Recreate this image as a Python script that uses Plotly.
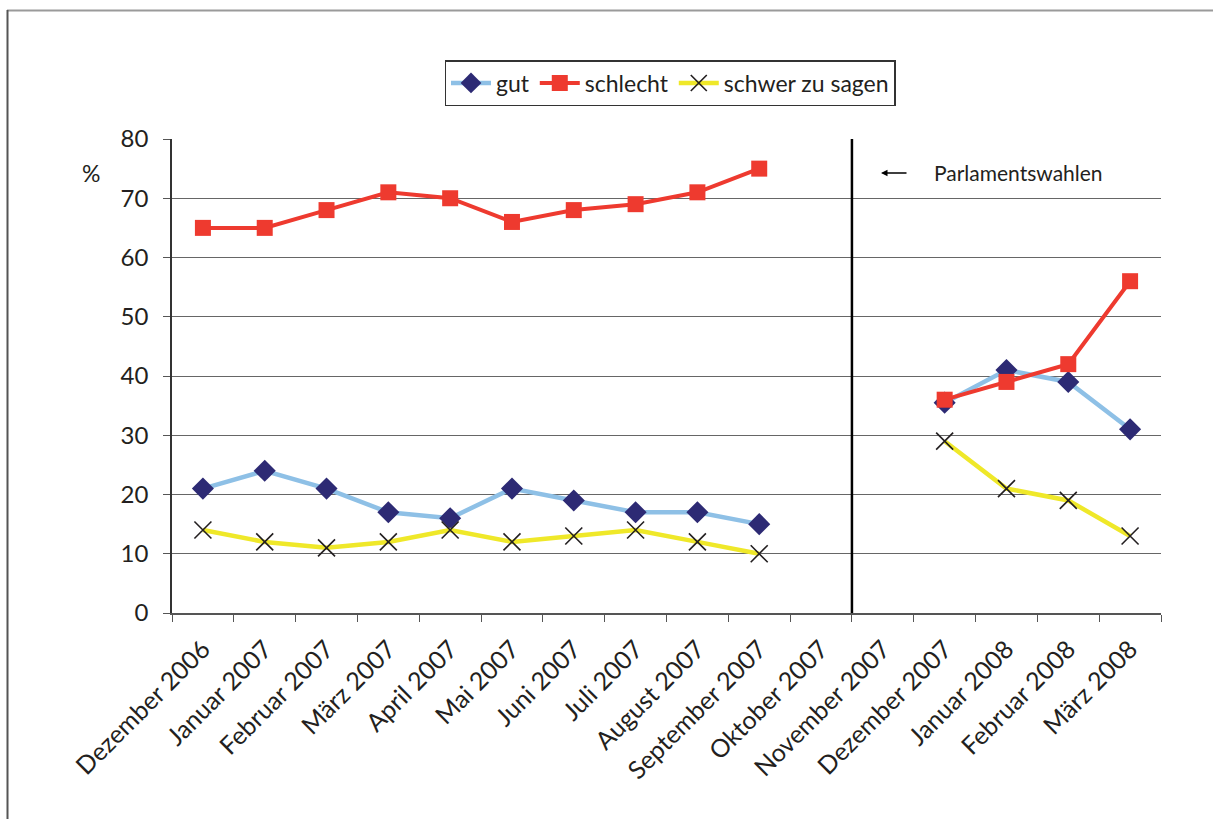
import plotly.graph_objects as go

months = ["Dezember 2006", "Januar 2007", "Februar 2007", "März 2007", "April 2007",
          "Mai 2007", "Juni 2007", "Juli 2007", "August 2007", "September 2007",
          "Oktober 2007", "November 2007", "Dezember 2007", "Januar 2008",
          "Februar 2008", "März 2008"]
gut = [21, 24, 21, 17, 16, 21, 19, 17, 17, 15, None, None, 35.5, 41, 39, 31]
schlecht = [65, 65, 68, 71, 70, 66, 68, 69, 71, 75, None, None, 36, 39, 42, 56]
schwer = [14, 12, 11, 12, 14, 12, 13, 14, 12, 10, None, None, 29, 21, 19, 13]
y_ticks = [0, 10, 20, 30, 40, 50, 60, 70, 80]

FONT = "Lato, 'Open Sans', sans-serif"
TXT = "#231F20"

fig = go.Figure()
fig.add_trace(go.Scatter(
    x=months, y=gut, name="gut", mode="lines+markers",
    line=dict(color="#8EC0E6", width=4.5),
    marker=dict(symbol="diamond", size=17, color="#2D2A74"),
))
fig.add_trace(go.Scatter(
    x=months, y=schlecht, name="schlecht", mode="lines+markers",
    line=dict(color="#EE3A2F", width=4),
    marker=dict(symbol="square", size=16, color="#EE3A2F"),
))
fig.add_trace(go.Scatter(
    x=months, y=schwer, name="schwer zu sagen", mode="lines+markers",
    line=dict(color="#EFE829", width=4.5),
    marker=dict(symbol="x-thin", size=17, color="#231F20",
                line=dict(color="#231F20", width=1.6)),
))

W, H = 1213, 819
L, R, T, B = 172, 1161, 139, 613
pw, ph = R - L, B - T

def px(x):
    return (x - L) / pw

def py(y):
    return (B - y) / ph

shapes = [
    dict(type="line", xref="x", yref="paper", x0=10.5, x1=10.5, y0=0, y1=1,
         line=dict(color="black", width=2.5)),
    dict(type="line", xref="paper", yref="paper", x0=px(7), x1=px(1213),
         y0=py(10.5), y1=py(10.5), line=dict(color="#9A9A9A", width=2)),
    dict(type="line", xref="paper", yref="paper", x0=px(7.5), x1=px(7.5),
         y0=py(10), y1=py(819), line=dict(color="#555555", width=2)),
]

annotations = [
    dict(text="%", xref="paper", yref="paper", x=px(91), y=py(173), showarrow=False,
         font=dict(size=23, color=TXT, family=FONT), xanchor="center", yanchor="middle"),
    dict(text="Parlamentswahlen", xref="paper", yref="paper", x=px(932), y=py(172),
         showarrow=False, font=dict(size=21, color=TXT, family=FONT),
         xanchor="left", yanchor="middle"),
    dict(text="", xref="paper", yref="paper", x=px(881), y=py(173),
         ax=27, ay=0, axref="pixel", ayref="pixel",
         showarrow=True, arrowhead=2, arrowsize=1, arrowwidth=1.3, arrowcolor="black"),
]

fig.update_layout(
    width=W, height=H,
    margin=dict(l=L, r=W - R, t=T, b=H - B, pad=0),
    paper_bgcolor="white", plot_bgcolor="white",
    font=dict(family=FONT, color=TXT, size=22),
    showlegend=True,
    legend=dict(orientation="h", x=px(670), y=py(60), xanchor="center", yanchor="top",
                bordercolor="#333333", borderwidth=1.5, bgcolor="white",
                font=dict(size=23, color=TXT, family=FONT),
                itemwidth=40, tracegroupgap=0, itemsizing="trace"),
    xaxis=dict(type="category", categoryorder="array", categoryarray=months,
               range=[-0.5, 15.5], tickson="boundaries", ticks="outside",
               ticklen=7, tickcolor="#555555", tickwidth=1.2,
               tickangle=-45, tickfont=dict(size=25, color=TXT, family=FONT),
               ticklabelstandoff=10,
               showgrid=False, showline=True, linecolor="#555555", linewidth=1.5,
               zeroline=False),
    yaxis=dict(range=[0, 80], tickvals=y_ticks, ticks="outside", ticklen=7,
               tickcolor="#555555", tickwidth=1.2,
               tickfont=dict(size=24, color=TXT, family=FONT),
               ticklabelstandoff=10,
               showgrid=True, gridcolor="#666666", gridwidth=1,
               showline=True, linecolor="#333333", linewidth=1.5, zeroline=False,
               mirror=False),
    shapes=shapes,
    annotations=annotations,
)

fig.write_html("out.html")
